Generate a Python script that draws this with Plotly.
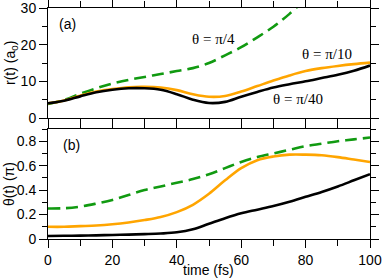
import plotly.graph_objects as go

t = [0, 5, 10, 15, 20, 25, 30, 35, 40, 45, 50, 55, 60, 65, 70, 75, 80, 85, 90, 95, 100]

r_pi40 = [4.0, 4.7, 5.9, 7.0, 7.7, 8.1, 8.1, 7.7, 6.5, 5.0, 4.1, 4.4, 5.8, 7.1, 8.3, 9.2, 10.0, 10.9, 11.8, 12.9, 14.3]
r_pi10 = [4.0, 4.8, 6.1, 7.2, 7.9, 8.4, 8.5, 8.3, 7.6, 6.5, 5.8, 6.0, 7.2, 8.7, 10.2, 11.6, 12.8, 13.6, 14.2, 14.7, 15.1]
t_pi4 = [0, 5, 10, 15, 20, 25, 30, 35, 40, 45, 50, 55, 60, 65, 70, 75, 80]
r_pi4 = [3.8, 4.9, 6.6, 8.1, 9.4, 10.4, 11.2, 12.0, 12.8, 13.6, 15.0, 17.1, 19.3, 22.0, 24.9, 28.4, 32.5]

th_pi40 = [0.025, 0.026, 0.028, 0.030, 0.033, 0.036, 0.040, 0.045, 0.055, 0.080, 0.125, 0.170, 0.210, 0.240, 0.270, 0.305, 0.345, 0.385, 0.430, 0.480, 0.530]
th_pi10 = [0.10, 0.10, 0.105, 0.11, 0.12, 0.135, 0.155, 0.18, 0.22, 0.28, 0.37, 0.48, 0.58, 0.645, 0.675, 0.69, 0.69, 0.685, 0.67, 0.65, 0.63]
th_pi4 = [0.25, 0.252, 0.265, 0.29, 0.32, 0.36, 0.40, 0.43, 0.46, 0.49, 0.53, 0.58, 0.63, 0.67, 0.70, 0.73, 0.76, 0.78, 0.80, 0.815, 0.83]

x_ticks = [0, 20, 40, 60, 80, 100]
r_ticks = [0, 10, 20, 30]
th_ticks = [0, 0.2, 0.4, 0.6, 0.8]
th_tick_text = ["0", "0.2", "0.4", "0.6", "0.8"]

labels = ["θ = π/4", "θ = π/10", "θ = π/40"]
label_pos = [(51.5, 21.5), (86.6, 17.4), (77.6, 5.2)]

GREEN = "#119a11"
ORANGE = "#ffa500"
BLACK = "#000000"

fig = go.Figure()
common = dict(mode="lines", line_shape="spline", showlegend=False, hoverinfo="skip")
fig.add_trace(go.Scatter(x=t_pi4, y=r_pi4, line=dict(color=GREEN, width=2.6, dash="12px,6px"), xaxis="x", yaxis="y", **common))
fig.add_trace(go.Scatter(x=t, y=r_pi10, line=dict(color=ORANGE, width=2.6), xaxis="x", yaxis="y", **common))
fig.add_trace(go.Scatter(x=t, y=r_pi40, line=dict(color=BLACK, width=2.6), xaxis="x", yaxis="y", **common))
fig.add_trace(go.Scatter(x=t, y=th_pi4, line=dict(color=GREEN, width=2.6, dash="12px,6px"), xaxis="x2", yaxis="y2", **common))
fig.add_trace(go.Scatter(x=t, y=th_pi10, line=dict(color=ORANGE, width=2.6), xaxis="x2", yaxis="y2", **common))
fig.add_trace(go.Scatter(x=t, y=th_pi40, line=dict(color=BLACK, width=2.6), xaxis="x2", yaxis="y2", **common))

axbase = dict(showline=True, linecolor="black", linewidth=1, mirror="allticks",
              ticks="outside", ticklen=8, tickwidth=1, tickcolor="black",
              showgrid=False, zeroline=False, automargin=False, ticklabeloverflow="allow",
              tickfont=dict(family="Liberation Sans", size=14, color="black"))
minor_x = dict(dtick=10, ticklen=6, tickcolor="black", ticks="outside", showgrid=False)

top_lo = (239 - 118) / 231
bot_hi = (239 - 129) / 231

fig.update_layout(
    width=382, height=280,
    margin=dict(l=48, r=12, t=8, b=41),
    paper_bgcolor="white", plot_bgcolor="white",
    font=dict(family="Liberation Sans", size=14, color="black"),
    xaxis=dict(axbase, range=[0, 100], tickvals=x_ticks, showticklabels=False,
               domain=[0, 1], anchor="y", minor=minor_x),
    yaxis=dict(axbase, range=[0, 30], tickvals=r_ticks, domain=[top_lo, 1], anchor="x",
               minor=dict(dtick=5, ticklen=5, tickcolor="black", ticks="outside", showgrid=False)),
    xaxis2=dict(axbase, range=[0, 100], tickvals=x_ticks, domain=[0, 1], anchor="y2",
                minor=minor_x),
    yaxis2=dict(axbase, range=[0, 0.9], tickvals=th_ticks, ticktext=th_tick_text,
                domain=[0, bot_hi], anchor="x2",
                minor=dict(dtick=0.1, ticklen=5, tickcolor="black", ticks="outside", showgrid=False)),
)

ann = []
for txt, (ax_, ay_) in zip(labels, label_pos):
    ann.append(dict(x=ax_, y=ay_, xref="x", yref="y", text=txt, showarrow=False,
                    xanchor="center", yanchor="middle",
                    font=dict(family="Liberation Serif", size=15, color="black")))
ann.append(dict(x=67, y=24, xref="paper", yref="paper", text="(a)", showarrow=False,
                font=dict(family="Liberation Sans", size=14)))
ann.append(dict(x=71.5, y=145, xref="paper", yref="paper", text="(b)", showarrow=False,
                font=dict(family="Liberation Sans", size=14)))
ann.append(dict(x=11, y=63, xref="paper", yref="paper", text="r(t) (a<sub>0</sub>)", textangle=-90,
                showarrow=False, font=dict(family="Liberation Sans", size=14)))
ann.append(dict(x=9, y=184, xref="paper", yref="paper", text="θ(t) (π)", textangle=-90,
                showarrow=False, font=dict(family="Liberation Sans", size=14)))
ann.append(dict(x=208.5, y=270, xref="paper", yref="paper", text="time (fs)",
                showarrow=False, font=dict(family="Liberation Sans", size=14)))

# convert pixel positions for paper annotations
for a in ann:
    if a["xref"] == "paper":
        a["x"] = (a["x"] - 48) / 322
        a["y"] = (239 - a["y"]) / 231
        a["xanchor"] = "center"
        a["yanchor"] = "middle"
fig.update_layout(annotations=ann)

fig.write_html("out.html", config={"displayModeBar": False},
               post_script="document.body.style.margin='0';document.body.style.padding='0';")
